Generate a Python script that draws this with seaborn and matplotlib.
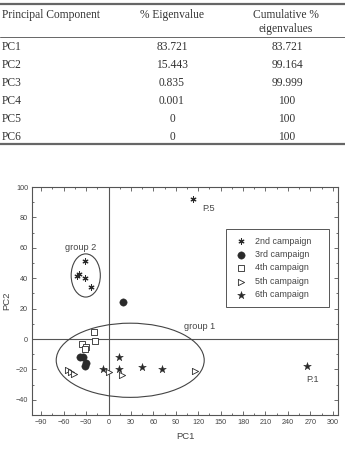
import matplotlib
matplotlib.use("Agg")
import matplotlib.pyplot as plt
from matplotlib.patches import Ellipse, Rectangle
from matplotlib.ticker import MultipleLocator
from matplotlib.lines import Line2D
import seaborn as sns
import pandas as pd

# ---- table data ----
components = ["PC1", "PC2", "PC3", "PC4", "PC5", "PC6"]
eigen_pct = ["83.721", "15.443", "0.835", "0.001", "0", "0"]
cumulative = ["83.721", "99.164", "99.999", "100", "100", "100"]

# ---- score plot data ----
c2_x = [113, -31, -39, -42, -31, -23]
c2_y = [92, 51, 43, 41.5, 40, 34.5]
c3_x = [19, -38, -34, -30, -32]
c3_y = [24.5, -12, -12, -15.5, -18]
c4_x = [-19, -18, -35, -30, -32]
c4_y = [4.5, -1.5, -3.5, -5, -6.5]
c5_x = [-54, -50, -46, 1, 18, 116]
c5_y = [-20.5, -22, -23, -21.5, -23.5, -21]
c6_x = [14, -7.5, 13.5, 45, 72, 265]
c6_y = [-12, -20, -20, -18.5, -20, -17.5]
campaign_labels = ["2nd campaign", "3rd campaign", "4th campaign", "5th campaign", "6th campaign"]

sns.set_style("ticks")
plt.rcParams["font.family"] = ["Liberation Sans", "DejaVu Sans"]

W, H = 345, 451
fig = plt.figure(figsize=(W / 100, H / 100), dpi=100)

def fx(px):
    return px / W

def fy(py):
    return 1 - py / H

# ---- table ----
serif = ["Liberation Serif", "DejaVu Serif"]
tcol = "#333333"
tfs = 8.3
for yy, lw in [(4, 1.6), (37, 0.7), (144, 1.6)]:
    fig.add_artist(Line2D([0, 1], [fy(yy), fy(yy)], transform=fig.transFigure,
                          color="#666666", lw=lw))
fig.text(fx(2), fy(15), "Principal Component", family=serif, fontsize=tfs, color=tcol,
         ha="left", va="center")
fig.text(fx(172), fy(15), "% Eigenvalue", family=serif, fontsize=tfs, color=tcol,
         ha="center", va="center")
fig.text(fx(286), fy(15), "Cumulative %", family=serif, fontsize=tfs, color=tcol,
         ha="center", va="center")
fig.text(fx(286), fy(29), "eigenvalues", family=serif, fontsize=tfs, color=tcol,
         ha="center", va="center")
for i, (c, e, cu) in enumerate(zip(components, eigen_pct, cumulative)):
    yy = 46.5 + 18 * i
    fig.text(fx(2), fy(yy), c, family=serif, fontsize=tfs, color=tcol, ha="left", va="center")
    fig.text(fx(172), fy(yy), e, family=serif, fontsize=tfs, color=tcol, ha="center", va="center")
    fig.text(fx(287), fy(yy), cu, family=serif, fontsize=tfs, color=tcol, ha="center", va="center")

# ---- scatter plot ----
ax = fig.add_axes([32.3 / W, 1 - 415 / H, (338 - 32.3) / W, (415 - 187) / H])
ink = "#2a2a2a"

def df(x, y):
    return pd.DataFrame({"x": x, "y": y})

sns.scatterplot(data=df(c2_x, c2_y), x="x", y="y", ax=ax, marker=(6, 2, 0), s=14,
                color=ink, linewidth=0.8, label=campaign_labels[0])
sns.scatterplot(data=df(c3_x, c3_y), x="x", y="y", ax=ax, marker="o", s=28,
                color=ink, edgecolor=ink, linewidth=0.3, label=campaign_labels[1])
sns.scatterplot(data=df(c4_x, c4_y), x="x", y="y", ax=ax, marker="s", s=16,
                color="white", edgecolor=ink, linewidth=0.6, label=campaign_labels[2])
sns.scatterplot(data=df(c5_x, c5_y), x="x", y="y", ax=ax, marker=">", s=20,
                color="white", edgecolor=ink, linewidth=0.6, label=campaign_labels[3])
sns.scatterplot(data=df(c6_x, c6_y), x="x", y="y", ax=ax, marker="*", s=34,
                color=ink, edgecolor=ink, linewidth=0.3, label=campaign_labels[4])

ax.axvline(0, color="#555555", lw=0.8, zorder=0)
ax.axhline(0, color="#555555", lw=0.8, zorder=0)

ax.add_patch(Ellipse((-30.5, 41.8), 39, 28.4, fill=False, edgecolor="#444444", lw=0.8))
ax.add_patch(Ellipse((29, -14), 198, 48.8, fill=False, edgecolor="#444444", lw=0.8))

lab_fs = 6.6
ax.text(133.5, 86, "P.5", fontsize=lab_fs, color="#444444", ha="center", va="center")
ax.text(-38, 60.5, "group 2", fontsize=lab_fs, color="#444444", ha="center", va="center")
ax.text(273, -26.5, "P.1", fontsize=lab_fs, color="#444444", ha="center", va="center")
ax.text(122, 8, "group 1", fontsize=lab_fs, color="#444444", ha="center", va="center")

ax.set_xlim(-102, 307)
ax.set_ylim(-50, 100)
ax.xaxis.set_major_locator(MultipleLocator(30))
ax.xaxis.set_minor_locator(MultipleLocator(15))
ax.yaxis.set_major_locator(MultipleLocator(20))
ax.yaxis.set_minor_locator(MultipleLocator(10))
ax.tick_params(which="both", direction="in", top=True, right=True, colors="#555555",
               labelcolor="#444444", labelsize=5.2, width=0.6, pad=3)
ax.tick_params(which="major", length=3)
ax.tick_params(which="minor", length=1.6)
for sp in ax.spines.values():
    sp.set_color("#555555")
    sp.set_linewidth(0.8)
ax.set_xlabel("PC1", fontsize=6.8, color="#444444", labelpad=4)
ax.set_ylabel("PC2", fontsize=6.8, color="#444444", labelpad=3)

# legend (frame drawn separately to match its wide right margin)
def axfx(px):
    return (px - 32.3) / 305.7

def axfy(py):
    return (415 - py) / 228

ax.add_patch(Rectangle((axfx(226), axfy(307.3)), axfx(329.3) - axfx(226),
                       axfy(229.3) - axfy(307.3), transform=ax.transAxes,
                       facecolor="white", edgecolor="#555555", lw=0.7, zorder=4))
leg = ax.legend(loc="upper left", bbox_to_anchor=(axfx(235.7), axfy(236.5)), fontsize=6.4,
                frameon=False, borderpad=0, labelspacing=0.5, handletextpad=0.97,
                handlelength=1.2, borderaxespad=0, labelcolor="#444444")
leg.set_zorder(5)

fig.savefig("out.png", dpi=100)
